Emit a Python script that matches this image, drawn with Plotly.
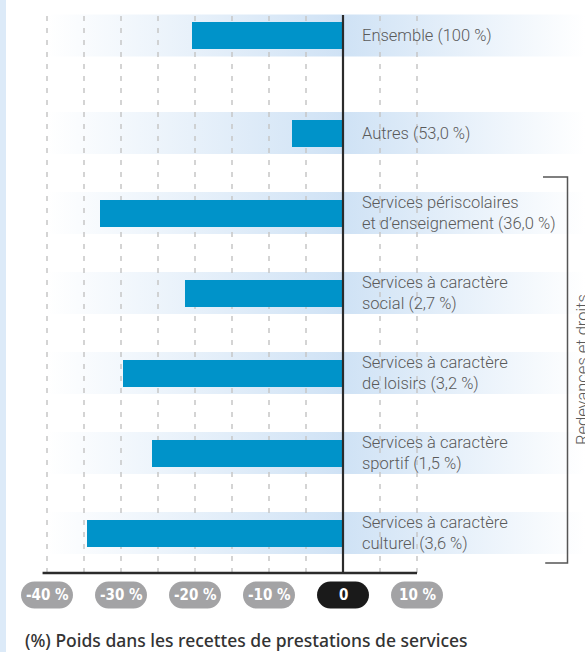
import plotly.graph_objects as go

# ---------------- data ----------------
categories = [
    "Ensemble (100 %)",
    "Autres (53,0 %)",
    "Services périscolaires<br>et d’enseignement (36,0 %)",
    "Services à caractère<br>social (2,7 %)",
    "Services à caractère<br>de loisirs (3,2 %)",
    "Services à caractère<br>sportif (1,5 %)",
    "Services à caractère<br>culturel (3,6 %)",
]
values = [-20.4, -6.9, -32.8, -21.3, -29.7, -25.8, -34.6]
row_pos = [6.22, 5, 4, 3, 2, 1, 0]

tick_vals = [-40, -30, -20, -10, 0, 10]
tick_text = ["-40 %", "-30 %", "-20 %", "-10 %", "0", "10 %"]
grid_vals = [-40, -35, -30, -25, -20, -15, -10, -5, 5, 10]

bracket_label = "Redevances et droits"
caption = "(%) Poids dans les recettes de prestations de services"

# ---------------- styling ----------------
W, H = 585, 652
PX_PER_UNIT_X = 7.4
ZERO_PX = 343
PX_PER_ROW = 80
ROW0_PX = 533
x_range = [(0 - ZERO_PX) / PX_PER_UNIT_X, (W - ZERO_PX) / PX_PER_UNIT_X]
y_range = [(ROW0_PX - H) / PX_PER_ROW, (ROW0_PX - 0) / PX_PER_ROW]

BAR_COLOR = "#0093c9"
BAND_RGB = "207,226,245"
BAR_W = 27 / PX_PER_ROW
BAND_H = 42 / PX_PER_ROW
AXIS_Y = -0.5
TOP_Y = (ROW0_PX - 15) / PX_PER_ROW
PILL_Y = (ROW0_PX - 595) / PX_PER_ROW
LABEL_FONT = "Roboto, sans-serif"

fig = go.Figure()

# gradient bands (base subplot)
for p in row_pos:
    y0, y1 = p - BAND_H / 2, p + BAND_H / 2
    fig.add_trace(go.Scatter(
        x=[-40, 0, 0, -40, -40], y=[y0, y0, y1, y1, y0],
        mode="lines", line=dict(width=0), fill="toself",
        fillgradient=dict(type="horizontal",
                          colorscale=[[0, f"rgba({BAND_RGB},0)"], [1, f"rgba({BAND_RGB},1)"]]),
        hoverinfo="skip"))
    fig.add_trace(go.Scatter(
        x=[0, x_range[1], x_range[1], 0, 0], y=[y0, y0, y1, y1, y0],
        mode="lines", line=dict(width=0), fill="toself",
        fillgradient=dict(type="horizontal",
                          colorscale=[[0, f"rgba({BAND_RGB},1)"], [0.55, f"rgba({BAND_RGB},0.45)"],
                                      [1, f"rgba({BAND_RGB},0)"]]),
        hoverinfo="skip"))

# dashed gridlines (base subplot)
gx, gy = [], []
for g in grid_vals:
    gx += [g, g, None]
    gy += [AXIS_Y, TOP_Y, None]
fig.add_trace(go.Scatter(x=gx, y=gy, mode="lines",
                         line=dict(color="#c6c6c6", width=1.5, dash="5px,7px"),
                         hoverinfo="skip"))

# bars (overlay subplot, drawn above bands and gridlines)
fig.add_trace(go.Bar(x=values, y=row_pos, orientation="h", width=BAR_W,
                     marker=dict(color=BAR_COLOR, line=dict(width=0)),
                     hovertext=[c.replace("<br>", " ") for c in categories],
                     hoverinfo="text+x", xaxis="x2", yaxis="y2"))

# zero line & axis line
fig.add_trace(go.Scatter(x=[0, 0], y=[AXIS_Y, TOP_Y], mode="lines",
                         line=dict(color="#2b2b2b", width=2.2), hoverinfo="skip",
                         xaxis="x2", yaxis="y2"))
fig.add_trace(go.Scatter(x=[-40.6, 10], y=[AXIS_Y, AXIS_Y], mode="lines",
                         line=dict(color="#2b2b2b", width=2.5), hoverinfo="skip",
                         xaxis="x2", yaxis="y2"))

shapes = []
annotations = []

# tick pills
r = 13.5
hw = 26 - r
k = 0.5523 * r
pill_path = (f"M {-hw},{-r} L {hw},{-r} C {hw + k},{-r} {hw + r},{-k} {hw + r},0 "
             f"C {hw + r},{k} {hw + k},{r} {hw},{r} L {-hw},{r} "
             f"C {-hw - k},{r} {-hw - r},{k} {-hw - r},0 C {-hw - r},{-k} {-hw - k},{-r} {-hw},{-r} Z")
for v, t in zip(tick_vals, tick_text):
    col = "#1a1a1a" if v == 0 else "#a3a3a5"
    shapes.append(dict(type="path", xref="x", yref="y", xsizemode="pixel", ysizemode="pixel",
                       xanchor=v, yanchor=PILL_Y, path=pill_path,
                       fillcolor=col, line=dict(width=0), layer="above"))
    annotations.append(dict(x=v, y=PILL_Y, xref="x", yref="y", text=f"<b>{t}</b>",
                            showarrow=False,
                            font=dict(family="DejaVu Sans Condensed, DejaVu Sans, sans-serif",
                                      size=15, color="white")))

# category labels
label_x = (362 - ZERO_PX) / PX_PER_UNIT_X
for c, p in zip(categories, row_pos):
    annotations.append(dict(x=label_x, y=p, xref="x", yref="y", text=c, showarrow=False,
                            xanchor="left", yanchor="middle", align="left", xshift=-2,
                            font=dict(family=LABEL_FONT, size=16.5, color="#5a5a5a", weight=300)))

# bracket
bx = (567.5 - ZERO_PX) / PX_PER_UNIT_X
bx0 = (543 - ZERO_PX) / PX_PER_UNIT_X
b_top = row_pos[2] + 0.45
b_bot = row_pos[6] - 0.375
shapes.append(dict(type="path", xref="x", yref="y",
                   path=f"M {bx0},{b_top} L {bx},{b_top} L {bx},{b_bot} L {bx0 + 0.3},{b_bot}",
                   line=dict(color="#555555", width=1.5)))
annotations.append(dict(x=(582 - ZERO_PX) / PX_PER_UNIT_X, y=(b_top + b_bot) / 2, xref="x", yref="y",
                        text=bracket_label, textangle=-90, showarrow=False,
                        xanchor="center", yanchor="middle",
                        font=dict(family=LABEL_FONT, size=16.5, color="#5a5a5a", weight=300)))

# left frame strip
shapes.append(dict(type="rect", xref="paper", yref="paper", x0=0, x1=6 / W, y0=0, y1=1,
                   fillcolor="#dceaf8", line=dict(width=0), layer="below"))

# caption
annotations.append(dict(x=23 / W, y=1 - 640 / H, xref="paper", yref="paper", text=caption,
                        showarrow=False, xanchor="left", yanchor="middle",
                        font=dict(family="Noto Sans, sans-serif", size=17.5, color="#333333",
                                  weight=500)))

fig.update_layout(
    width=W, height=H, margin=dict(l=0, r=0, t=0, b=0),
    paper_bgcolor="white", plot_bgcolor="rgba(0,0,0,0)", showlegend=False,
    xaxis=dict(range=x_range, visible=False, fixedrange=True),
    yaxis=dict(range=y_range, visible=False, fixedrange=True),
    xaxis2=dict(range=x_range, visible=False, fixedrange=True, overlaying="x"),
    yaxis2=dict(range=y_range, visible=False, fixedrange=True, overlaying="y"),
    shapes=shapes, annotations=annotations, bargap=0,
)

fig.write_html("out.html", config={"displayModeBar": False},
               post_script="document.body.style.margin='0';document.body.style.padding='0';"
                           "document.body.style.overflow='hidden';")
